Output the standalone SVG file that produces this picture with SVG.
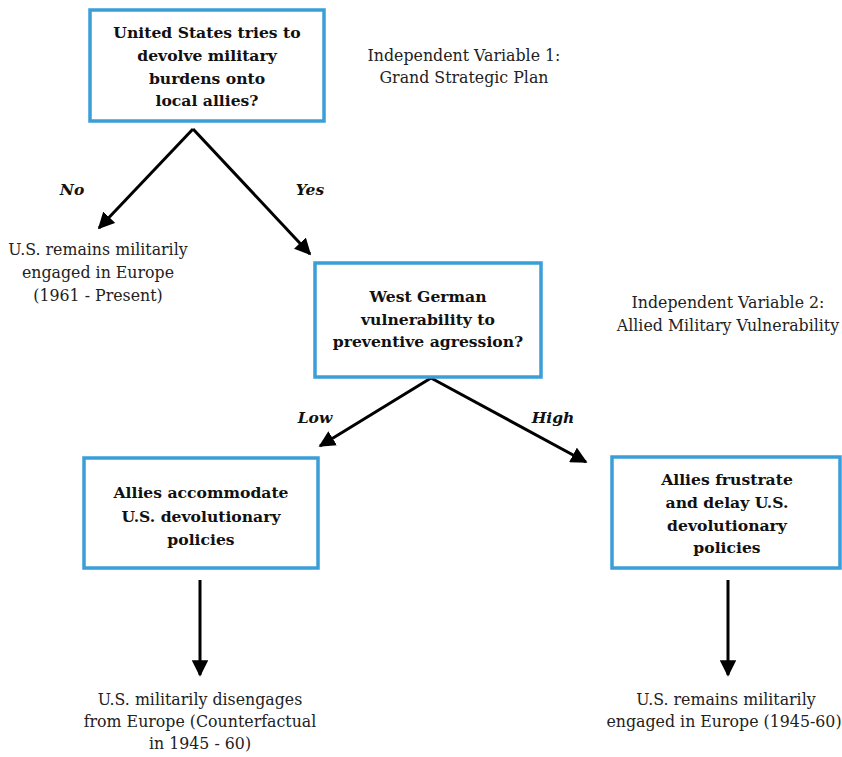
<svg xmlns="http://www.w3.org/2000/svg" width="842" height="757" viewBox="0 0 842 757">
<style>
.box{fill:#fff;stroke:#3a9fd8;stroke-width:3.5}
.bt{font-family:"DejaVu Serif","Liberation Serif",serif;font-weight:bold;font-size:15.6px;fill:#111;text-anchor:middle}
.t{font-family:"DejaVu Serif","Liberation Serif",serif;font-size:15.8px;fill:#222;text-anchor:middle}
.lab{font-family:"DejaVu Serif","Liberation Serif",serif;font-weight:bold;font-style:italic;font-size:15.5px;fill:#111;text-anchor:middle}
.c{stroke:#000;stroke-width:3;fill:none;marker-end:url(#ah)}
</style>
<defs>
<marker id="ah" viewBox="0 0 10 10" refX="9" refY="5" markerWidth="5.5" markerHeight="5.5" markerUnits="strokeWidth" orient="auto">
<path d="M0,0 L10,5 L0,10 z" fill="#000"/>
</marker>
</defs>
<rect width="842" height="757" fill="#fff"/>
<g id="connectors">
<path class="c" d="M193,129 L99,228"/>
<path class="c" d="M193,129 L310,254"/>
<path class="c" d="M431,378 L320,446"/>
<path class="c" d="M431,378 L586,462"/>
<path class="c" d="M200,580 L200,675"/>
<path class="c" d="M728,580 L728,675"/>
<text class="lab" x="72" y="195">No</text>
<text class="lab" x="310" y="195">Yes</text>
<text class="lab" x="315" y="423">Low</text>
<text class="lab" x="553" y="423">High</text>
</g>
<g id="n1">
<rect class="box" x="90" y="10" width="234" height="111"/>
<text class="bt" x="207" y="38">United States tries to</text>
<text class="bt" x="207" y="61">devolve military</text>
<text class="bt" x="207" y="84">burdens onto</text>
<text class="bt" x="207" y="106">local allies?</text>
</g>
<g id="iv1">
<text class="t" x="464" y="61">Independent Variable 1:</text>
<text class="t" x="464" y="83">Grand Strategic Plan</text>
</g>
<g id="n_no">
<text class="t" x="98" y="255">U.S. remains militarily</text>
<text class="t" x="98" y="278">engaged in Europe</text>
<text class="t" x="98" y="301">(1961 - Present)</text>
</g>
<g id="n2">
<rect class="box" x="315" y="263" width="226" height="114"/>
<text class="bt" x="428" y="302">West German</text>
<text class="bt" x="428" y="325">vulnerability to</text>
<text class="bt" x="428" y="347">preventive agression?</text>
</g>
<g id="iv2">
<text class="t" x="728" y="308">Independent Variable 2:</text>
<text class="t" x="728" y="331">Allied Military Vulnerability</text>
</g>
<g id="n3">
<rect class="box" x="84" y="458" width="234" height="110"/>
<text class="bt" x="201" y="498">Allies accommodate</text>
<text class="bt" x="201" y="522">U.S. devolutionary</text>
<text class="bt" x="201" y="545">policies</text>
</g>
<g id="n4">
<rect class="box" x="612" y="457" width="228" height="111"/>
<text class="bt" x="727" y="485">Allies frustrate</text>
<text class="bt" x="727" y="508">and delay U.S.</text>
<text class="bt" x="727" y="531">devolutionary</text>
<text class="bt" x="727" y="553">policies</text>
</g>
<g id="n5">
<text class="t" x="200" y="705">U.S. militarily disengages</text>
<text class="t" x="200" y="727">from Europe (Counterfactual</text>
<text class="t" x="200" y="749">in 1945 - 60)</text>
</g>
<g id="n6">
<text class="t" x="726" y="705">U.S. remains militarily</text>
<text class="t" x="724" y="727">engaged in Europe (1945-60)</text>
</g>
</svg>
